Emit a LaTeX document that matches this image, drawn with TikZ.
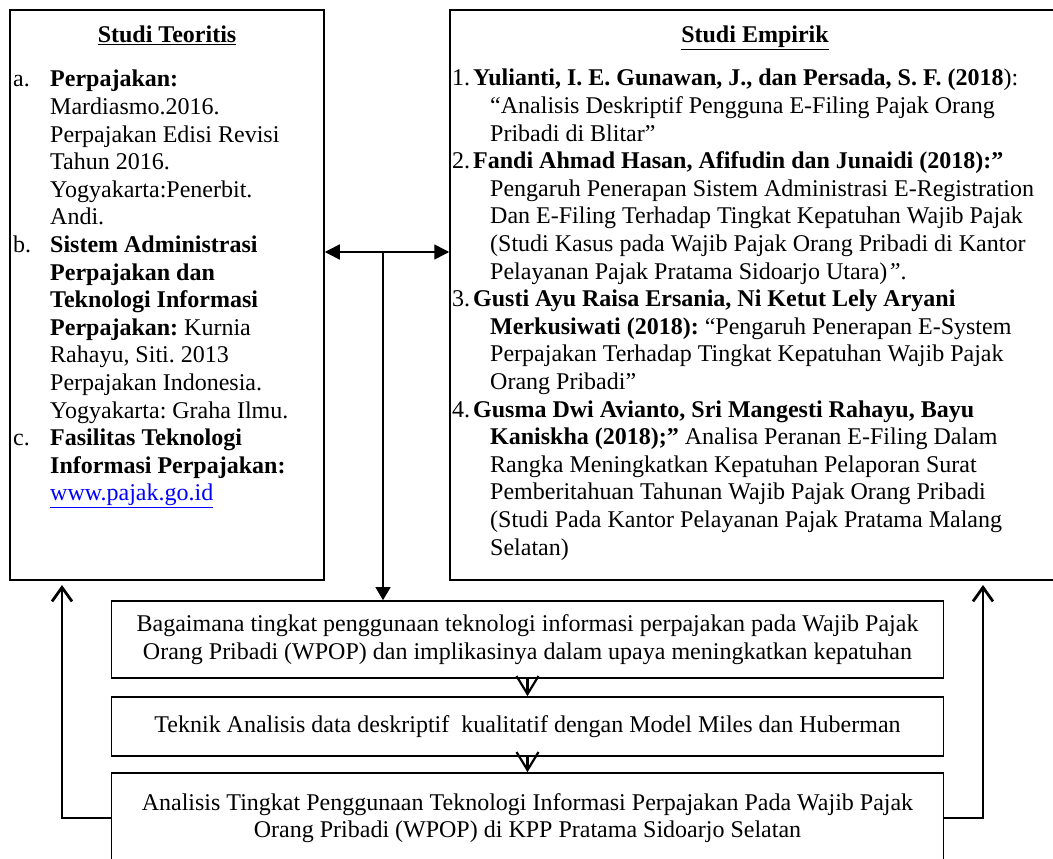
\documentclass[tikz,border=0pt]{standalone}
\usepackage{fontspec}
\setmainfont{Liberation Serif}
\usetikzlibrary{arrows.meta, positioning}
\definecolor{LINK}{HTML}{0000FF}
\newcommand{\hng}{\hspace*{17pt}}
\frenchspacing

\begin{document}
\begin{tikzpicture}[x=1pt, y=-1pt, font=\fontsize{24}{27.6}\selectfont,
    frame/.style={draw, line width=1.5pt, inner sep=0pt},
    stage/.style={draw, line width=1.7pt, minimum width=832pt, align=center, inner sep=0pt},
    flow/.style={line width=1.5pt, -{Triangle[length=13pt,width=15pt]}},
    vee/.style={line width=2.2pt, -{Straight Barb[length=18pt,width=22pt]}},
    fb/.style={line width=2.8pt, -{Straight Barb[length=14pt,width=20pt]}}]
    \useasboundingbox (0,0) rectangle (1053,859);
    % two study boxes
    \node[frame, minimum width=314pt, minimum height=570pt] (teori) at (167,295) {};
    \node[frame, minimum width=610pt, minimum height=570pt] (empiri) at (755,295) {};
    \node[anchor=base] (teorihead) at (167,43) {\textbf{\underline{Studi Teoritis}}};
    \node[anchor=base] (empirihead) at (755,43) {\textbf{\underline{Studi Empirik}}};
    \node[anchor=base west, inner sep=0pt] (teorilist) at (13,87) {%
      \begin{tabular}[t]{@{}p{37pt}@{}l@{}}
      a. & \textbf{Perpajakan:}\\
         & Mardiasmo.2016.\\
         & Perpajakan Edisi Revisi\\
         & Tahun 2016.\\
         & Yogyakarta:Penerbit.\\
         & Andi.\\
      b. & \textbf{Sistem Administrasi}\\
         & \textbf{Perpajakan dan}\\
         & \textbf{Teknologi Informasi}\\
         & \textbf{Perpajakan:} Kurnia\\
         & Rahayu, Siti. 2013\\
         & Perpajakan Indonesia.\\
         & Yogyakarta: Graha Ilmu.\\
      c. & \textbf{Fasilitas Teknologi}\\
         & \textbf{Informasi Perpajakan:}\\
         & \textcolor{LINK}{\underline{www.pajak.go.id}}
      \end{tabular}};
    \node[anchor=base west, inner sep=0pt] (empirilist) at (452,86) {%
      \begin{tabular}[t]{@{}p{21pt}@{}l@{}}
      1. & \textbf{Yulianti, I. E. Gunawan, J., dan Persada, S. F. (2018}):\\
         & \hng“Analisis Deskriptif Pengguna E-Filing Pajak Orang\\
         & \hng Pribadi di Blitar”\\
      2. & \textbf{Fandi Ahmad Hasan, Afifudin dan Junaidi (2018):”}\\
         & \hng Pengaruh Penerapan Sistem Administrasi E-Registration\\
         & \hng Dan E-Filing Terhadap Tingkat Kepatuhan Wajib Pajak\\
         & \hng (Studi Kasus pada Wajib Pajak Orang Pribadi di Kantor\\
         & \hng Pelayanan Pajak Pratama Sidoarjo Utara)\textit{”}.\\
      3. & \textbf{Gusti Ayu Raisa Ersania, Ni Ketut Lely Aryani}\\
         & \hng\textbf{Merkusiwati (2018):} “Pengaruh Penerapan E-System\\
         & \hng Perpajakan Terhadap Tingkat Kepatuhan Wajib Pajak\\
         & \hng Orang Pribadi”\\
      4. & \textbf{Gusma Dwi Avianto, Sri Mangesti Rahayu, Bayu}\\
         & \hng\textbf{Kaniskha (2018);”} Analisa Peranan E-Filing Dalam\\
         & \hng Rangka Meningkatkan Kepatuhan Pelaporan Surat\\
         & \hng Pemberitahuan Tahunan Wajib Pajak Orang Pribadi\\
         & \hng (Studi Pada Kantor Pelayanan Pajak Pratama Malang\\
         & \hng Selatan)
      \end{tabular}};
    % stages
    \node[stage, minimum height=77pt] (tanya) at (527.5,639.5)
      {Bagaimana tingkat penggunaan teknologi informasi perpajakan pada Wajib Pajak\\
       Orang Pribadi (WPOP) dan implikasinya dalam upaya meningkatkan kepatuhan};
    \node[stage, minimum height=59pt] (teknik) at (527.5,726.5)
      {Teknik Analisis data deskriptif\ \ kualitatif dengan Model Miles dan Huberman};
    \node[stage, minimum height=90pt] (analisis) at (527.5,818)
      {Analisis Tingkat Penggunaan Teknologi Informasi Perpajakan Pada Wajib Pajak\\
       Orang Pribadi (WPOP) di KPP Pratama Sidoarjo Selatan};
    % connectors
    \coordinate (hub) at (383,252);
    \coordinate (fbL) at (62,585);
    \coordinate (fbR) at (983,585);
    \draw[line width=1.5pt, {Triangle[length=15pt,width=15pt]}-{Triangle[length=15pt,width=15pt]}]
      (hub -| teori.east) -- (hub -| empiri.west);
    \draw[flow] (hub) -- (hub |- tanya.north);
    \draw[vee] (tanya.south) -- (teknik.north);
    \draw[vee] (teknik.south) -- (analisis.north);
    \draw[fb] (analisis.west) -| (fbL);
    \draw[fb] (analisis.east) -| (fbR);
\end{tikzpicture}
\end{document}
